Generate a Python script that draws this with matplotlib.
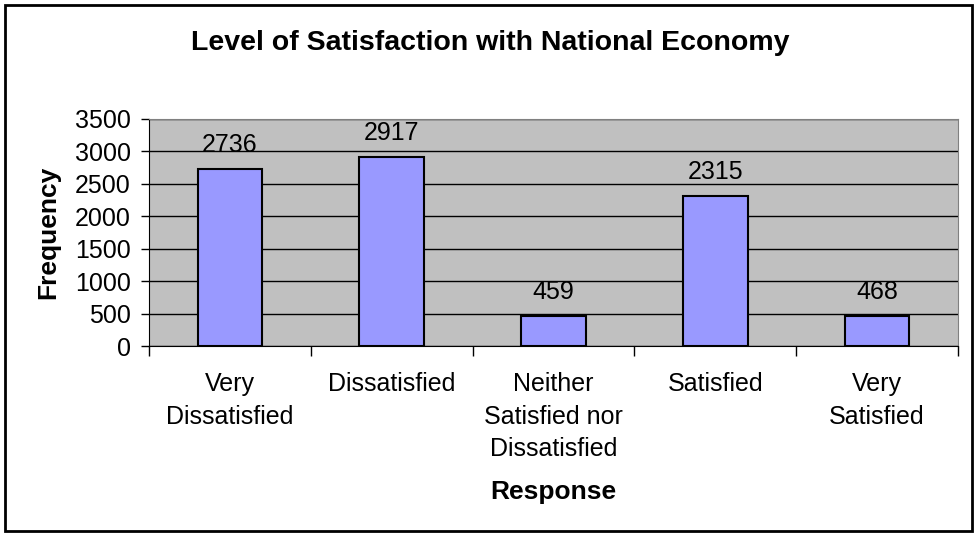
import matplotlib.pyplot as plt
from matplotlib.patches import Rectangle
from matplotlib.ticker import FixedLocator, NullFormatter
import numpy as np

plt.rcParams['font.family'] = ['Liberation Sans', 'DejaVu Sans']

categories = ['Very\nDissatisfied', 'Dissatisfied', 'Neither\nSatisfied nor\nDissatisfied',
              'Satisfied', 'Very\nSatisfied']
counts = [2736, 2917, 459, 2315, 468]
y_ticks = [0, 500, 1000, 1500, 2000, 2500, 3000, 3500]

fig = plt.figure(figsize=(9.75, 5.33), dpi=100)
ax = fig.add_axes([149 / 975, 1 - 346 / 533, (958 - 149) / 975, (346 - 119) / 533])

x = np.arange(len(categories))
ax.set_facecolor('#C0C0C0')
ax.bar(x, counts, width=0.4, color='#9999FF', edgecolor='black', linewidth=1.5, zorder=3)

for xi, v in zip(x, counts):
    ax.annotate(str(v), (xi, v), xytext=(0, 8.5), textcoords='offset points',
                ha='center', va='bottom', fontsize=18)

ax.set_xlim(-0.5, len(categories) - 0.5)
ax.set_ylim(0, 3500)
ax.set_yticks(y_ticks)
ax.yaxis.grid(True, color='black', linewidth=1, zorder=1)
ax.set_axisbelow(True)
ax.tick_params(axis='y', labelsize=18, length=6, width=1, direction='out', pad=7)

# category boundaries carry the tick marks, centres carry the labels
ax.xaxis.set_major_locator(FixedLocator(np.arange(-0.5, len(categories), 1.0)))
ax.xaxis.set_major_formatter(NullFormatter())
ax.xaxis.set_minor_locator(FixedLocator(x))
ax.set_xticklabels(categories, minor=True)
ax.tick_params(axis='x', which='major', length=7, width=1, direction='out')
ax.tick_params(axis='x', which='minor', length=0, labelsize=18, pad=19)
for lbl in ax.get_xticklabels(minor=True):
    lbl.set_linespacing(1.45)
    lbl.set_va('top')

for side in ('top', 'right'):
    ax.spines[side].set_color('#808080')
for side in ('left', 'bottom'):
    ax.spines[side].set_color('black')

ax.set_ylabel('Frequency', fontsize=19, fontweight='bold', va='center')
ax.yaxis.set_label_coords((48 - 149) / 809, 0.5)
ax.set_xlabel('Response', fontsize=19, fontweight='bold', va='center')
ax.xaxis.set_label_coords(0.5, -(492 - 346) / 227)

fig.text(490 / 975, 1 - 43 / 533, 'Level of Satisfaction with National Economy',
         ha='center', va='center', fontsize=20.5, fontweight='bold')

fig.patches.append(Rectangle((5 / 975, 2 / 533), 967 / 975, 526 / 533, transform=fig.transFigure,
                             fill=False, edgecolor='black', linewidth=2))

fig.savefig('out.png', dpi=100)
